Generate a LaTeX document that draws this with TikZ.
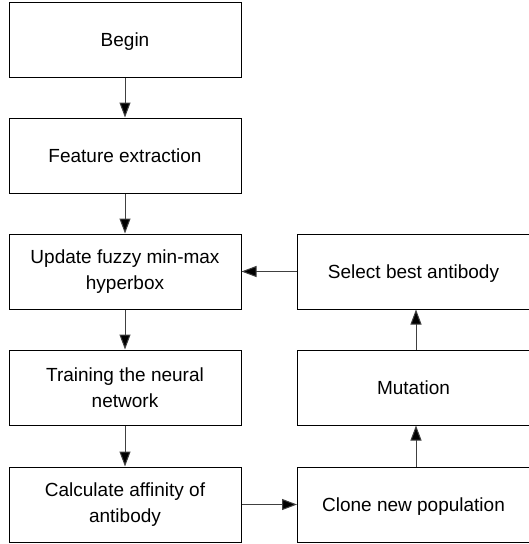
\documentclass[tikz,border=0pt]{standalone}
\usepackage{fontspec}
\setmainfont{Liberation Sans}
\usetikzlibrary{arrows.meta}
\begin{document}
\begin{tikzpicture}[x=1pt,y=-1pt,
  blk/.style={draw=black,line width=1pt,minimum width=232pt,minimum height=75pt,inner sep=0pt,align=center,font=\fontsize{19}{25.5}\selectfont},
  oneline/.style={blk,text height=13.6pt,text depth=0pt},
  conn/.style={draw=black!75,line width=1pt,-{Triangle[length=15pt,width=11pt,fill=black]}}]
\useasboundingbox (0,0) rectangle (529,544);
\node[oneline] (begin) at (125,40) {Begin};
\node[oneline] (feat) at (125,155.5) {Feature extraction};
\node[blk] (upd) at (125,271.5) {Update fuzzy min-max\\hyperbox};
\node[blk] (train) at (125,387.5) {Training the neural\\network};
\node[blk] (calc) at (125,504.5) {Calculate affinity of\\antibody};
\node[oneline] (clone) at (413.5,504.5) {Clone new population};
\node[oneline] (mut) at (413.5,387.5) {Mutation};
\node[oneline] (sel) at (413.5,271.5) {Select best antibody};
\draw[conn] (begin) -- (feat);
\draw[conn] (feat) -- (upd);
\draw[conn] (upd) -- (train);
\draw[conn] (train) -- (calc);
\draw[conn] (calc) -- (clone);
\draw[conn] (clone.north -| 416,0) -- (mut.south -| 416,0);
\draw[conn] (mut.north -| 416,0) -- (sel.south -| 416,0);
\draw[conn] (sel) -- (upd);
\end{tikzpicture}
\end{document}
